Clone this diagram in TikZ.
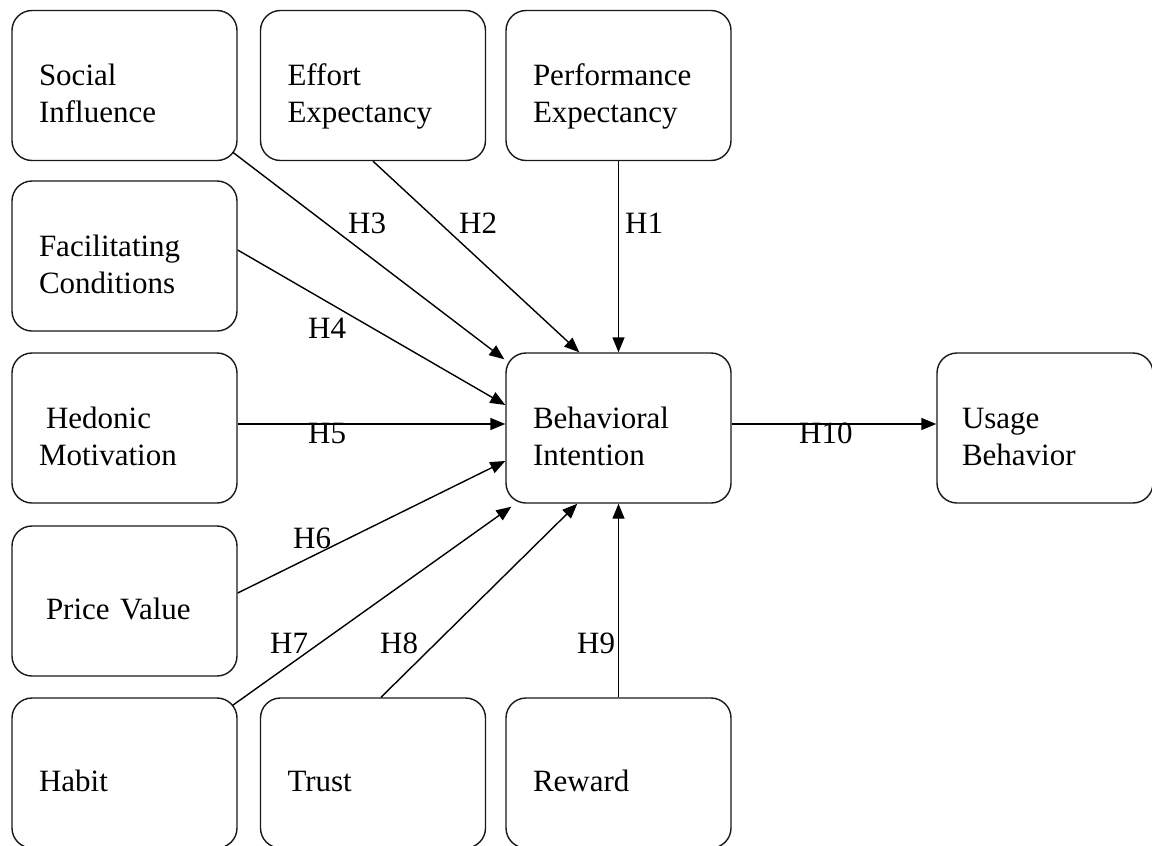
\documentclass[tikz,border=0pt]{standalone}
\usepackage{fontspec}
\setmainfont{Liberation Serif}
\usetikzlibrary{arrows.meta,calc}
\newcommand{\bt}[1]{\rule{0pt}{46pt}#1\rule[-9pt]{0pt}{9pt}}
\begin{document}
\begin{tikzpicture}[x=1pt,y=-1pt,
  box/.style={draw=black!90, line width=1.4pt, rounded corners=20pt,
    minimum width=225pt, minimum height=150pt, inner xsep=0pt, inner ysep=0pt,
    text width=171pt, align=left, font=\fontsize{31}{37}\selectfont},
  arr/.style={draw=black, line width=1.4pt, -{Triangle[length=15pt,width=12pt]}},
  hl/.style={anchor=base west, inner sep=0pt, font=\fontsize{31}{37}\selectfont}]
\useasboundingbox (0,0) rectangle (1152,846);
\clip (0,0) rectangle (1152,846);
\fill[white] (0,0) rectangle (1152,846);

\node[box] (si) at (124.5,85.5) {\bt{Social\\Influence}};
\node[box] (ee) at (373,85.5) {\bt{Effort\\Expectancy}};
\node[box] (pe) at (618.5,85.5) {\bt{Performance\\Expectancy}};
\node[box] (fc) at (124.5,256) {\bt{Facilitating\\Conditions}};
\node[box] (hm) at (124.5,428) {\bt{\hspace*{7pt}Hedonic\\Motivation}};
\node[box] (pv) at (124.5,601) {\bt{\hspace*{7pt}Price Value}};
\node[box] (hb) at (124.5,773) {\bt{Habit}};
\node[box] (tr) at (373,773) {\bt{Trust}};
\node[box] (rw) at (618.5,773) {\bt{Reward}};
\node[box] (bi) at (618.5,428) {\bt{Behavioral\\Intention}};
\node[box, minimum width=216pt, text width=166pt] (ub) at (1045,428) {\bt{Usage\\Behavior}};

\draw[arr] (pe.south) -- (bi.north);
\draw[arr] (ee.south) -- ($(bi.north west)+(74,0)$);
\draw[arr] ($(si.south east)+(-5,-9)$) -- ($(bi.north west)+(-1,7)$);
\draw[arr] ($(fc.east)+(0,-6)$) -- ($(bi.west)+(0,-23)$);
\draw[arr] ($(hm.east)+(0,-4)$) -- ($(bi.west)+(0,-4)$);
\draw[arr] ($(pv.east)+(0,-8)$) -- ($(bi.west)+(0,33)$);
\draw[arr] ($(hb.north east)+(-5,8)$) -- ($(bi.south west)+(6,3)$);
\draw[arr] ($(tr.north)+(8,0)$) -- ($(bi.south west)+(72,0)$);
\draw[arr] (rw.north) -- (bi.south);
\draw[arr] ($(bi.east)+(0,-4)$) -- ($(ub.west)+(0,-4)$);

\node[hl] (l1) at (625,233) {H1};
\node[hl] (l2) at (459,233) {H2};
\node[hl] (l3) at (348,233) {H3};
\node[hl] (l4) at (308,338) {H4};
\node[hl] (l5) at (308,443) {H5};
\node[hl] (l6) at (293,548) {H6};
\node[hl] (l7) at (270,653) {H7};
\node[hl] (l8) at (380,653) {H8};
\node[hl] (l9) at (577,653) {H9};
\node[hl] (l10) at (799,443) {H10};
\end{tikzpicture}
\end{document}
